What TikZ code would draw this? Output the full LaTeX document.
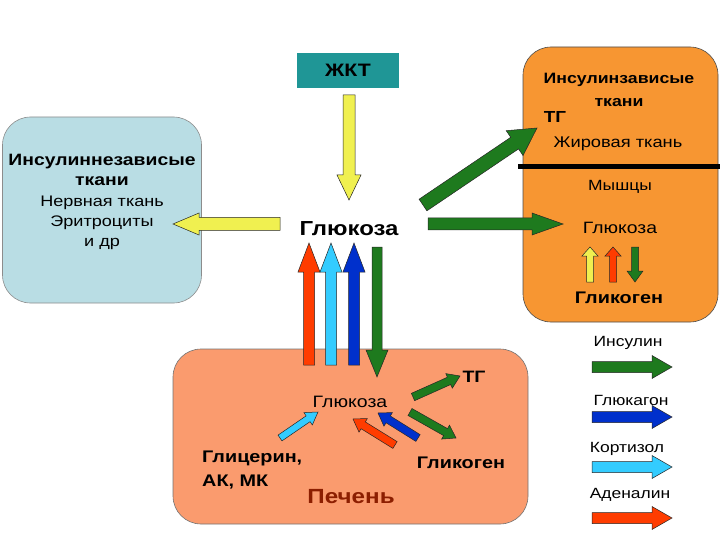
\documentclass[tikz,border=0pt]{standalone}
\usepackage{fontspec}
\setmainfont[FakeStretch=1.18]{Liberation Sans}
\usetikzlibrary{calc}
\definecolor{lbox}{HTML}{B9DDE4}
\definecolor{obox}{HTML}{F79632}
\definecolor{sbox}{HTML}{FA9B6E}
\definecolor{tbox}{HTML}{1F9696}
\definecolor{ayel}{HTML}{F0F050}
\definecolor{ared}{HTML}{FF3C00}
\definecolor{acya}{HTML}{33CCFF}
\definecolor{ablu}{HTML}{0030CC}
\definecolor{agrn}{HTML}{1E7A1E}
\definecolor{pech}{HTML}{8C1E00}
% block arrow: [style]{from}{to}{half shaft}{half head}{head length}
\newcommand\blockarr[6][]{%
  \coordinate (ba-h) at ($(#3)!#6!(#2)$);
  \draw[arrowline,#1] ($(#2)!#4!90:(#3)$) -- ($(ba-h)!#4!-90:(#2)$)
     -- ($(ba-h)!#5!-90:(#2)$) -- (#3) -- ($(ba-h)!#5!90:(#2)$)
     -- ($(ba-h)!#4!90:(#2)$) -- ($(#2)!#4!-90:(#3)$) -- cycle;}
\begin{document}
\begin{tikzpicture}[x=1pt,y=-1pt,
  arrowline/.style={draw=black!85,line width=0.5pt,line join=miter},
  rbox/.style={rounded corners=28pt,line width=0.6pt,inner sep=0pt},
  txt/.style={inner sep=0pt,font=\fontsize{15.3}{18}\selectfont},
  btxt/.style={inner sep=0pt,font=\fontsize{16.8}{19}\selectfont\bfseries}]
\useasboundingbox (0,0) rectangle (720,540);
% boxes
\node[rbox,draw=black!45,fill=lbox,minimum width=199pt,minimum height=186pt] (L) at (102,210) {};
\node[rbox,draw=black!70,fill=obox,minimum width=195pt,minimum height=275pt] (R) at (620.5,184.5) {};
\node[rbox,draw=black!55,fill=sbox,minimum width=355pt,minimum height=175pt] (P) at (350.5,436.5) {};
\node[draw=none,fill=tbox,minimum width=102pt,minimum height=35pt,inner sep=0pt,font=\fontsize{18}{20}\selectfont\bfseries] (G) at (348,70.5) {ЖКТ};
% separator
\coordinate (s1) at (518,167);
\coordinate (s2) at (720,167);
\draw[line width=5pt] (s1) -- (s2);
% left box text
\node[align=center,inner sep=0pt,font=\fontsize{15.3}{20.3}\selectfont] (Lt) at (102,202)
  {{\fontsize{16.4}{20.3}\selectfont\bfseries Инсулиннезависые}\\{\fontsize{16.4}{20.3}\selectfont\bfseries ткани}\\Нервная ткань\\Эритроциты\\и др};
% centre
\node[inner sep=0pt,font=\fontsize{20.3}{22}\selectfont\bfseries] (Gl) at (349,229) {Глюкоза};
% right box text
\node[align=center,inner sep=0pt,font=\fontsize{15}{23}\selectfont\bfseries] (Rt) at (619,90) {Инсулинзависые\\ткани};
\node[btxt,font=\fontsize{16}{19}\selectfont\bfseries] (TG1) at (555,117) {ТГ};
\node[txt,font=\fontsize{15.5}{18}\selectfont] (Fat) at (618,144) {Жировая ткань};
\node[txt,font=\fontsize{14.8}{18}\selectfont] (Mus) at (620,187) {Мышцы};
\node[txt,font=\fontsize{16.4}{18}\selectfont] (Gl2) at (620,228) {Глюкоза};
\node[btxt] (Gk1) at (619,298) {Гликоген};
% liver text
\node[txt,font=\fontsize{16.5}{18}\selectfont] (Gl3) at (350,402) {Глюкоза};
\node[btxt,font=\fontsize{16.5}{19}\selectfont\bfseries] (TG2) at (474,377) {ТГ};
\node[btxt,anchor=west] (Gc1) at (202,458) {Глицерин,};
\node[btxt,anchor=west] (Gc2) at (202,482) {АК, МК};
\node[btxt] (Gk2) at (461,463) {Гликоген};
\node[inner sep=0pt,font=\fontsize{20.5}{22}\selectfont\bfseries,text=pech] (Pe) at (351,497) {Печень};
% legend text
\node[txt,font=\fontsize{14.8}{18}\selectfont] (l1) at (628,343) {Инсулин};
\node[txt,font=\fontsize{14.8}{18}\selectfont] (l2) at (631,400) {Глюкагон};
\node[txt,font=\fontsize{14.8}{18}\selectfont] (l3) at (627,449) {Кортизол};
\node[txt,font=\fontsize{14.8}{18}\selectfont] (l4) at (630,495) {Аденалин};
% arrow end points
\coordinate (ya) at (349,95);   \coordinate (yb) at (349,200);
\coordinate (ra) at (309,365);  \coordinate (rb) at (309,243);
\coordinate (ca) at (331,365);  \coordinate (cb) at (331,243);
\coordinate (bla) at (354,365); \coordinate (blb) at (354,243);
\coordinate (ga) at (377,247);  \coordinate (gb) at (377,377);
\coordinate (yla) at (280,224); \coordinate (ylb) at (173,224);
\coordinate (gda) at (423,205); \coordinate (gdb) at (537,128);
\coordinate (gha) at (428,224); \coordinate (ghb) at (563,224);
% right small
\coordinate (sya) at (590,282); \coordinate (syb) at (590,247);
\coordinate (sra) at (613,282); \coordinate (srb) at (613,247);
\coordinate (sga) at (635,247); \coordinate (sgb) at (635,282);
% liver
\coordinate (p1a) at (413,397); \coordinate (p1b) at (460,376);
\coordinate (p2a) at (280,438); \coordinate (p2b) at (318,412);
\coordinate (p3a) at (395,445); \coordinate (p3b) at (353,419);
\coordinate (p4a) at (418,438); \coordinate (p4b) at (378,413);
\coordinate (p5a) at (410,412); \coordinate (p5b) at (456,438);
% legend
\coordinate (k1a) at (592,367); \coordinate (k1b) at (672,367);
\coordinate (k2a) at (592,417); \coordinate (k2b) at (672,417);
\coordinate (k3a) at (592,467); \coordinate (k3b) at (672,467);
\coordinate (k4a) at (592,518); \coordinate (k4b) at (672,518);
% arrows
\blockarr[fill=ayel]{ya}{yb}{6pt}{12pt}{25pt}
\blockarr[fill=ared]{ra}{rb}{5.5pt}{11pt}{29pt}
\blockarr[fill=acya]{ca}{cb}{5.5pt}{11pt}{29pt}
\blockarr[fill=ablu]{bla}{blb}{5.5pt}{11pt}{29pt}
\blockarr[fill=agrn]{ga}{gb}{5pt}{11pt}{27pt}
\blockarr[fill=ayel]{yla}{ylb}{6.5pt}{11pt}{26pt}
\blockarr[fill=agrn]{gda}{gdb}{7pt}{15pt}{27pt}
\blockarr[fill=agrn]{gha}{ghb}{6pt}{11pt}{31pt}
\blockarr[fill=ayel]{sya}{syb}{3.5pt}{8pt}{9pt}
\blockarr[fill=ared]{sra}{srb}{3.5pt}{8pt}{9pt}
\blockarr[fill=agrn]{sga}{sgb}{3.5pt}{8pt}{11pt}
\blockarr[fill=agrn]{p1a}{p1b}{4pt}{8pt}{12pt}
\blockarr[fill=acya]{p2a}{p2b}{3.5pt}{7.5pt}{12pt}
\blockarr[fill=ared]{p3a}{p3b}{4pt}{8pt}{12pt}
\blockarr[fill=ablu]{p4a}{p4b}{4pt}{8pt}{12pt}
\blockarr[fill=agrn]{p5a}{p5b}{4pt}{8pt}{12pt}
\blockarr[fill=agrn]{k1a}{k1b}{5.5pt}{11.5pt}{20pt}
\blockarr[fill=ablu]{k2a}{k2b}{5.5pt}{11.5pt}{20pt}
\blockarr[fill=acya]{k3a}{k3b}{5.5pt}{11.5pt}{20pt}
\blockarr[fill=ared]{k4a}{k4b}{5.5pt}{11.5pt}{20pt}
\end{tikzpicture}
\end{document}
